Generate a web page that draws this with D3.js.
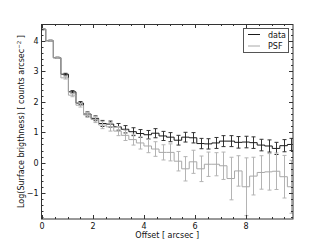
<!DOCTYPE html>
<html><head><meta charset="utf-8">
<script src="https://cdn.jsdelivr.net/npm/d3@7"></script>
<style>body{margin:0;background:#fff}svg{display:block}text{font-family:"DejaVu Sans",sans-serif}</style>
</head><body>
<script>
const offsets = [0, 0.296, 0.592, 0.888, 1.184, 1.48, 1.776, 2.072, 2.368, 2.664, 2.96, 3.256, 3.552, 3.848, 4.144, 4.44, 4.736, 5.032, 5.328, 5.624, 5.92, 6.216, 6.512, 6.808, 7.104, 7.4, 7.696, 7.992, 8.288, 8.584, 8.88, 9.176, 9.472, 9.768];
const dataVals = [4.39, 4.01, 3.45, 2.91, 2.33, 1.96, 1.60, 1.46, 1.29, 1.27, 1.18, 1.10, 1.02, 0.96, 0.92, 0.97, 0.88, 0.84, 0.74, 0.84, 0.82, 0.63, 0.62, 0.65, 0.71, 0.71, 0.67, 0.68, 0.66, 0.58, 0.55, 0.47, 0.56, 0.60];
const dataErr = [0.02, 0.02, 0.02, 0.03, 0.04, 0.05, 0.07, 0.08, 0.10, 0.10, 0.11, 0.12, 0.13, 0.13, 0.14, 0.15, 0.15, 0.15, 0.16, 0.16, 0.17, 0.17, 0.17, 0.18, 0.18, 0.18, 0.19, 0.19, 0.19, 0.19, 0.2, 0.2, 0.2, 0.2];
const psfVals = [4.39, 4.01, 3.45, 2.79, 2.22, 1.89, 1.57, 1.42, 1.24, 1.18, 1.04, 0.90, 0.76, 0.65, 0.55, 0.45, 0.34, 0.34, 0.05, -0.20, 0.03, -0.20, -0.05, -0.05, -0.10, -0.52, -0.27, -0.79, -0.44, -0.32, -0.30, -0.28, -0.46, -0.79];
const psfErr = [0.02, 0.02, 0.02, 0.04, 0.05, 0.06, 0.08, 0.10, 0.12, 0.14, 0.15, 0.17, 0.18, 0.20, 0.22, 0.24, 0.25, 0.28, 0.32, 0.40, 0.38, 0.42, 0.40, 0.38, 0.45, 0.70, 0.50, 0.95, 0.62, 0.55, 0.60, 0.60, 0.70, 0.87];
const xTicks = [0, 2, 4, 6, 8];
const yTicks = [-1, 0, 1, 2, 3, 4];
const legendLabels = ["data", "PSF"];

const W = 325, H = 245;
const L = 41.5, R = 293, T = 24, B = 219;
const svg = d3.select("body").append("svg").attr("width", W).attr("height", H);
const x = d3.scaleLinear().domain([0, 9.84]).range([L + 0.5, R]);
const y = d3.scaleLinear().domain([-1.85, 4.56]).range([B, T]);

svg.append("defs").append("clipPath").attr("id", "c")
  .append("rect").attr("x", L).attr("y", T).attr("width", R - L).attr("height", B - T);
const g = svg.append("g").attr("clip-path", "url(#c)");

const series = [
  {vals: dataVals, err: dataErr, line: "#1a1a1a", ebar: "#333"},
  {vals: psfVals, err: psfErr, line: "#a8a8a8", ebar: "#b4b4b4"}
];
series.forEach(s => {
  const pts = offsets.map((o, i) => [o, s.vals[i], s.err[i]]);
  const eb = g.append("g").attr("stroke", s.ebar).attr("stroke-width", 1);
  pts.forEach(p => {
    const cx = Math.round(x(p[0])) + 0.5;
    const y1 = y(p[1] + p[2]), y2 = y(p[1] - p[2]);
    eb.append("line").attr("x1", cx).attr("x2", cx).attr("y1", y1).attr("y2", y2);
    eb.append("line").attr("x1", cx - 2).attr("x2", cx + 2).attr("y1", y1).attr("y2", y1);
    eb.append("line").attr("x1", cx - 2).attr("x2", cx + 2).attr("y1", y2).attr("y2", y2);
  });
  g.append("path").datum(pts)
    .attr("d", d3.line().x(p => x(p[0])).y(p => y(p[1])).curve(d3.curveStep))
    .attr("fill", "none").attr("stroke", s.line).attr("stroke-width", 1);
});

// axes frame and ticks
const ax = svg.append("g").attr("stroke", "#333").attr("stroke-width", 1);
const xMinor = d3.range(0, 9.84, 0.5);
const yMinor = d3.range(-1.8, 4.56, 0.2);
xMinor.forEach(v => {
  const px = Math.round(x(v)) + 0.5, len = xTicks.includes(v) ? 4 : 2;
  ax.append("line").attr("x1", px).attr("x2", px).attr("y1", B).attr("y2", B - len);
  ax.append("line").attr("x1", px).attr("x2", px).attr("y1", T).attr("y2", T + len);
});
yMinor.forEach(v => {
  const vv = Math.round(v * 10) / 10;
  const py = Math.round(y(vv)) + 0.5, len = yTicks.includes(vv) ? 4 : 2;
  ax.append("line").attr("x1", L).attr("x2", L + len).attr("y1", py).attr("y2", py);
  ax.append("line").attr("x1", R).attr("x2", R - len).attr("y1", py).attr("y2", py);
});
svg.append("rect").attr("x", L).attr("y", T + 0.5).attr("width", R - L).attr("height", B - T - 0.5)
  .attr("fill", "none").attr("stroke", "#333").attr("stroke-width", 1);

xTicks.forEach(v => {
  svg.append("text").attr("x", x(v)).attr("y", B + 10).attr("text-anchor", "middle")
    .attr("font-size", 8).attr("fill", "#111").text(d3.format("d")(v));
});
yTicks.forEach(v => {
  svg.append("text").attr("x", L - 3).attr("y", y(v) + 3).attr("text-anchor", "end")
    .attr("font-size", 8).attr("fill", "#111").text(v < 0 ? "\u2212" + Math.abs(v) : v);
});

svg.append("text").attr("x", (L + R) / 2).attr("y", 238).attr("text-anchor", "middle")
  .attr("font-size", 8).attr("fill", "#111").text("Offset [ arcsec ]");
const yl = svg.append("text").attr("transform", `translate(23.5,${(T + B) / 2}) rotate(-90)`)
  .attr("text-anchor", "middle").attr("font-size", 8).attr("fill", "#111");
yl.append("tspan").text("Log(Surface brigthness) [ counts arcsec");
yl.append("tspan").attr("dy", -3).attr("font-size", 5.5).text("\u22122");
yl.append("tspan").attr("dy", 3).text(" ]");

// legend
const lg = svg.append("g");
lg.append("rect").attr("x", 243.5).attr("y", 28.5).attr("width", 45).attr("height", 24)
  .attr("fill", "#fff").attr("stroke", "#555").attr("stroke-width", 1);
legendLabels.forEach((t, i) => {
  const yy = 34.5 + i * 11.5;
  lg.append("line").attr("x1", 248).attr("x2", 260).attr("y1", yy).attr("y2", yy)
    .attr("stroke", series[i].line).attr("stroke-width", 1);
  lg.append("text").attr("x", 268).attr("y", yy + 3).attr("font-size", 8).attr("fill", "#111").text(t);
});
</script>
</body></html>
